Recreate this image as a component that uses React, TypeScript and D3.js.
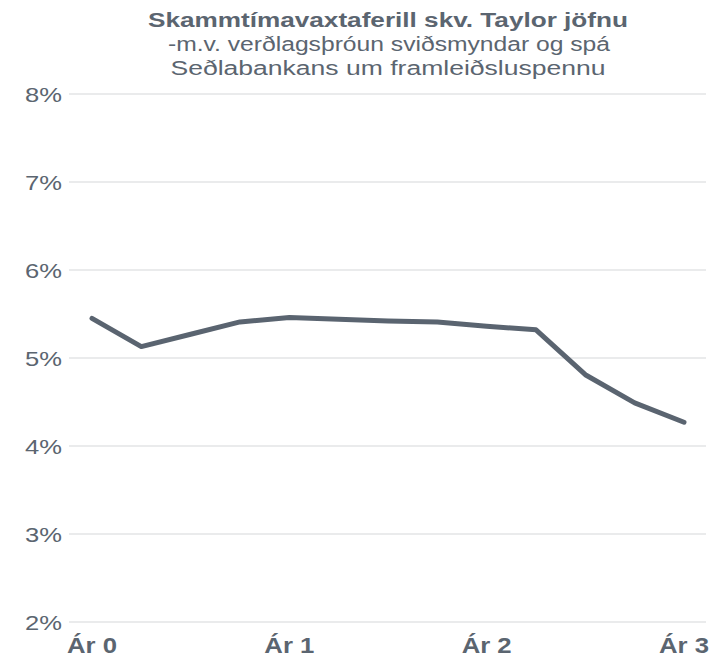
import React from "react";
import * as d3 from "d3";

const periods: number[] = [0, 0.25, 0.5, 0.75, 1, 1.25, 1.5, 1.75, 2, 2.25, 2.5, 2.75, 3];
const rates: number[] = [5.45, 5.13, 5.27, 5.41, 5.46, 5.44, 5.42, 5.41, 5.36, 5.32, 4.81, 4.49, 4.27];
const yTicks: number[] = [2, 3, 4, 5, 6, 7, 8];
const xTicks: number[] = [0, 1, 2, 3];
const xTickLabels: string[] = ["Ár 0", "Ár 1", "Ár 2", "Ár 3"];
const titleLines: string[] = [
  "Skammtímavaxtaferill skv. Taylor jöfnu",
  "-m.v. verðlagsþróun sviðsmyndar og spá",
  "Seðlabankans um framleiðsluspennu",
];

export default function App() {
  const W = 710, H = 661;
  const x = d3.scaleLinear().domain([0, 3]).range([92, 684]);
  const y = d3.scaleLinear().domain([2, 8]).range([622, 94]);
  const line = d3.line<number>().x((_, i) => x(periods[i])).y((d) => y(d));
  const textColor = "#5b6570";
  const font = "'Liberation Sans', Arial, sans-serif";
  return (
    <svg width={W} height={H} style={{ position: "absolute", left: 0, top: 0, background: "#fff" }} fontFamily={font}>
      {yTicks.map((t) => (
        <g key={t}>
          <line x1={69} x2={706} y1={y(t)} y2={y(t)} stroke="#e3e5e6" strokeWidth={1.5} />
          <text x={62} y={y(t)} dy="0.36em" textAnchor="end" fontSize={21} fill={textColor}
            textLength={37} lengthAdjust="spacingAndGlyphs">{t}%</text>
        </g>
      ))}
      <text x={388} y={27} textAnchor="middle" fontSize={20} fontWeight="bold" fill={textColor}
        textLength={480} lengthAdjust="spacingAndGlyphs">{titleLines[0]}</text>
      <text x={389} y={51} textAnchor="middle" fontSize={20} fill={textColor}
        textLength={442} lengthAdjust="spacingAndGlyphs">{titleLines[1]}</text>
      <text x={388} y={75} textAnchor="middle" fontSize={20} fill={textColor}
        textLength={435} lengthAdjust="spacingAndGlyphs">{titleLines[2]}</text>
      <path d={line(rates) || ""} fill="none" stroke="#5a6470" strokeWidth={5} strokeLinejoin="round" strokeLinecap="round" />
      {xTicks.map((t, i) => (
        <text key={t} x={x(t)} y={653} textAnchor="middle" fontSize={22} fontWeight="bold" fill={textColor}
          textLength={50} lengthAdjust="spacingAndGlyphs">{xTickLabels[i]}</text>
      ))}
    </svg>
  );
}
